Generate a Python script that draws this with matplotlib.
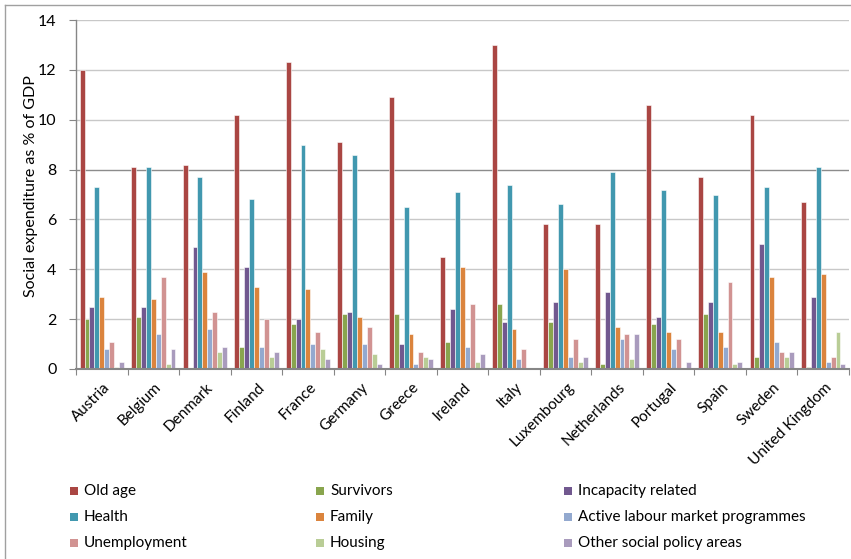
import matplotlib
matplotlib.use("Agg")
import matplotlib.pyplot as plt
import numpy as np
from matplotlib.lines import Line2D

plt.rcParams['font.family'] = ['Lato', 'DejaVu Sans']

countries = ["Austria", "Belgium", "Denmark", "Finland", "France", "Germany", "Greece",
             "Ireland", "Italy", "Luxembourg", "Netherlands", "Portugal", "Spain",
             "Sweden", "United Kingdom"]

series_names = ["Old age", "Survivors", "Incapacity related", "Health", "Family",
                "Active labour market programmes", "Unemployment", "Housing",
                "Other social policy areas"]

old_age      = [12.0, 8.1, 8.2, 10.2, 12.3, 9.1, 10.9, 4.5, 13.0, 5.8, 5.8, 10.6, 7.7, 10.2, 6.7]
survivors    = [2.0, 2.1, 0.0, 0.9, 1.8, 2.2, 2.2, 1.1, 2.6, 1.9, 0.2, 1.8, 2.2, 0.5, 0.1]
incapacity   = [2.5, 2.5, 4.9, 4.1, 2.0, 2.3, 1.0, 2.4, 1.9, 2.7, 3.1, 2.1, 2.7, 5.0, 2.9]
health       = [7.3, 8.1, 7.7, 6.8, 9.0, 8.6, 6.5, 7.1, 7.4, 6.6, 7.9, 7.2, 7.0, 7.3, 8.1]
family       = [2.9, 2.8, 3.9, 3.3, 3.2, 2.1, 1.4, 4.1, 1.6, 4.0, 1.7, 1.5, 1.5, 3.7, 3.8]
almp         = [0.8, 1.4, 1.6, 0.9, 1.0, 1.0, 0.2, 0.9, 0.4, 0.5, 1.2, 0.8, 0.9, 1.1, 0.3]
unemployment = [1.1, 3.7, 2.3, 2.0, 1.5, 1.7, 0.7, 2.6, 0.8, 1.2, 1.4, 1.2, 3.5, 0.7, 0.5]
housing      = [0.1, 0.2, 0.7, 0.5, 0.8, 0.6, 0.5, 0.3, 0.0, 0.3, 0.4, 0.0, 0.2, 0.5, 1.5]
other        = [0.3, 0.8, 0.9, 0.7, 0.4, 0.2, 0.4, 0.6, 0.0, 0.5, 1.4, 0.3, 0.3, 0.7, 0.2]

series = [old_age, survivors, incapacity, health, family, almp, unemployment, housing, other]
colors = ["#AA4643", "#89A54E", "#71588F", "#4198AF", "#DB843D",
          "#93A9CF", "#D19392", "#B9CD96", "#A99BBD"]

fig = plt.figure(figsize=(8.51, 5.59), dpi=100)
ax = fig.add_axes([76/851, 1 - 369/559, (849 - 76)/851, (369 - 20)/559])

n = len(series)
x = np.arange(len(countries))
group_w = 0.86
bw = group_w / n
for i, (vals, c) in enumerate(zip(series, colors)):
    offs = -group_w/2 + bw*(i + 0.5)
    ax.bar(x + offs, vals, width=bw, color=c, edgecolor="white", linewidth=0.4,
           label=series_names[i], zorder=3)

ax.set_xlim(-0.5, len(countries) - 0.5)
ax.set_ylim(0, 14)
ax.set_yticks(np.arange(0, 15, 2))
ax.set_yticklabels([str(v) for v in range(0, 15, 2)], fontsize=11.5)

for v in range(2, 15, 2):
    ax.axhline(v, color="#8C8C8C" if v == 8 else "#C8C8C8", linewidth=1.0, zorder=1)

ax.set_xticks(np.arange(-0.5, len(countries), 1.0))
ax.set_xticklabels([])
ax.tick_params(axis='x', length=4, color="#868686", direction='out')
ax.tick_params(axis='y', length=5, color="#868686", direction='out', pad=9)
for i, name in enumerate(countries):
    ax.text(i + 0.02, -0.45, name, rotation=45, ha='right', va='top',
            rotation_mode='anchor', fontsize=11, transform=ax.transData)

for s in ["top", "right"]:
    ax.spines[s].set_visible(False)
for s in ["left", "bottom"]:
    ax.spines[s].set_color("#868686")
    ax.spines[s].set_linewidth(1.0)
ax.spines["bottom"].set_linewidth(1.5)
ax.spines["bottom"].set_zorder(4)

ax.set_ylabel("Social expenditure as % of GDP", fontsize=11.5)
ax.yaxis.set_label_coords(-38/773, 0.524)

# legend
order_rows = [[0, 1, 2], [3, 4, 5], [6, 7, 8]]
col_x = [70, 316, 564]
row_y = [491, 517, 543]
for r, row in enumerate(order_rows):
    for cidx, si in enumerate(row):
        xm = col_x[cidx] / 851
        ym = 1 - row_y[r] / 559
        fig.patches.append(plt.Rectangle((xm, ym - 4/559), 8/851, 8/559,
                                         transform=fig.transFigure, facecolor=colors[si],
                                         edgecolor="none", figure=fig))
        fig.text(xm + 14/851, ym, series_names[si], fontsize=11, va='center', ha='left')

# figure border (left and top)
fig.add_artist(Line2D([5/851, 5/851], [0, 1 - 5/559], transform=fig.transFigure,
                      color="#A0A0A0", linewidth=1.0))
fig.add_artist(Line2D([5/851, 1], [1 - 5/559, 1 - 5/559], transform=fig.transFigure,
                      color="#A0A0A0", linewidth=1.0))

fig.savefig("out.png", dpi=100)
